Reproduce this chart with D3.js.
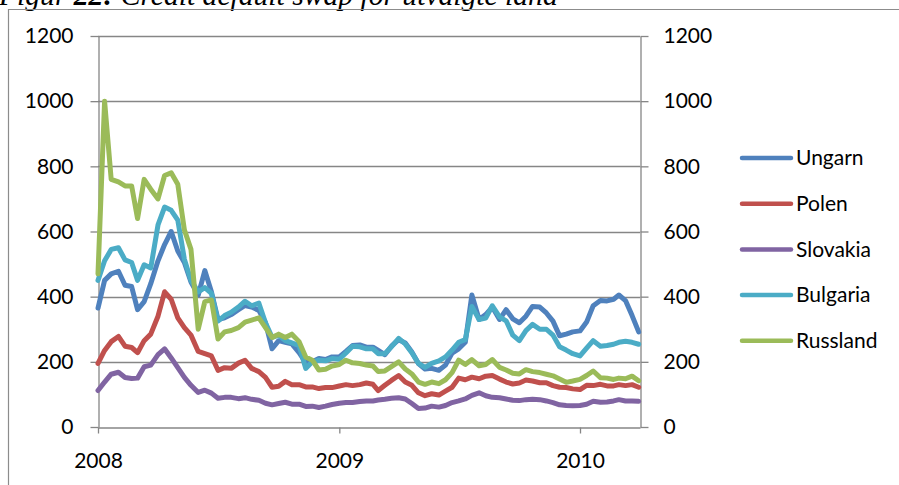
<!DOCTYPE html>
<html>
<head>
<meta charset="utf-8">
<script src="https://cdn.jsdelivr.net/npm/d3@7/dist/d3.min.js"></script>
<style>
  html, body { margin: 0; padding: 0; background: #fff; }
  svg { display: block; }
</style>
</head>
<body>
<svg id="chart" width="899" height="485"></svg>
<script>
// CDS spreads (basis points), sampled three times a month
const dates = [
  "2008-01-01","2008-01-11","2008-01-21","2008-02-01","2008-02-11","2008-02-21",
  "2008-03-01","2008-03-11","2008-03-21","2008-04-01","2008-04-11","2008-04-21",
  "2008-05-01","2008-05-11","2008-05-21","2008-06-01","2008-06-11","2008-06-21",
  "2008-07-01","2008-07-11","2008-07-21","2008-08-01","2008-08-11","2008-08-21",
  "2008-09-01","2008-09-11","2008-09-21","2008-10-01","2008-10-11","2008-10-21",
  "2008-11-01","2008-11-11","2008-11-21","2008-12-01","2008-12-11","2008-12-21",
  "2009-01-01","2009-01-11","2009-01-21","2009-02-01","2009-02-11","2009-02-21",
  "2009-03-01","2009-03-11","2009-03-21","2009-04-01","2009-04-11","2009-04-21",
  "2009-05-01","2009-05-11","2009-05-21","2009-06-01","2009-06-11","2009-06-21",
  "2009-07-01","2009-07-11","2009-07-21","2009-08-01","2009-08-11","2009-08-21",
  "2009-09-01","2009-09-11","2009-09-21","2009-10-01","2009-10-11","2009-10-21",
  "2009-11-01","2009-11-11","2009-11-21","2009-12-01","2009-12-11","2009-12-21",
  "2010-01-01","2010-01-11","2010-01-21","2010-02-01","2010-02-11","2010-02-21",
  "2010-03-01","2010-03-11","2010-03-21","2010-03-31"
];

const ungarn = [
  365,450,470,478,435,431,360,385,440,510,560,600,
  540,505,445,405,480,415,330,335,345,360,373,368,
  358,320,240,265,260,255,228,198,200,210,207,215,
  215,232,250,252,245,245,235,222,248,268,258,230,
  195,178,180,174,190,227,240,260,405,330,345,368,
  330,360,332,320,340,370,368,350,325,280,285,292,
  295,322,372,388,387,392,405,388,342,292
];

const polen = [
  195,235,262,278,248,244,228,265,285,340,415,392,
  335,305,282,232,225,218,174,182,180,196,205,180,
  170,152,122,125,140,130,130,123,123,118,121,121,
  126,130,127,130,135,131,112,128,143,158,138,128,
  105,96,102,98,110,122,150,145,153,148,156,158,
  147,138,132,135,144,141,136,136,127,122,121,117,
  115,128,127,131,126,126,130,127,130,122
];

const slovakia = [
  112,138,162,168,152,149,150,185,190,222,240,212,
  182,152,128,106,113,104,88,91,91,87,90,85,
  82,73,68,72,76,70,70,63,64,60,64,69,
  73,75,75,78,80,80,83,85,88,90,86,72,
  57,58,64,61,66,75,80,86,97,105,96,91,
  90,86,82,81,84,85,84,80,75,68,66,65,
  66,70,79,76,77,80,84,80,80,79
];

const bulgaria = [
  450,510,545,550,513,505,450,498,488,620,675,665,
  635,515,450,415,428,410,325,342,352,368,386,372,
  380,320,275,282,265,258,250,180,200,205,203,210,
  208,227,248,246,240,240,225,225,246,272,255,228,
  195,183,195,203,215,236,260,268,370,330,334,372,
  338,326,282,265,296,315,300,300,282,246,236,225,
  218,242,265,248,250,254,260,263,260,254
];

const russland = [
  470,1000,760,752,740,740,640,760,730,700,772,780,
  745,605,545,300,385,390,270,292,296,305,322,328,
  335,305,275,285,275,285,262,215,205,175,177,187,
  192,205,197,195,190,187,170,172,185,200,178,163,
  138,131,138,133,145,167,205,192,207,188,192,207,
  183,175,165,163,176,170,167,162,157,147,137,141,
  146,158,172,151,150,146,150,148,156,142
];

const seriesNames = ["Ungarn", "Polen", "Slovakia", "Bulgaria", "Russland"];
const seriesValues = [ungarn, polen, slovakia, bulgaria, russland];
const seriesColors = ["#4F81BD", "#C0504D", "#8064A2", "#4BACC6", "#9BBB59"];

const yTicks = [0, 200, 400, 600, 800, 1000, 1200];
const xTickDates = ["2008-01-01", "2009-01-01", "2010-01-01"];
const xTickLabels = ["2008", "2009", "2010"];

const titleParts = [
  { text: "Figur ", weight: "normal" },
  { text: "22:", weight: "bold" },
  { text: " Credit default swap for utvalgte land", weight: "normal" }
];

const parseDate = d3.timeParse("%Y-%m-%d");
const svg = d3.select("#chart");
const W = 899, H = 485;
const plot = { left: 98, right: 640, top: 36, bottom: 427 };
const axisGrey = "#868686";
const labelFont = "Lato, 'Noto Sans', sans-serif";

const x = d3.scaleTime()
  .domain([parseDate("2008-01-01"), parseDate("2010-04-02")])
  .range([plot.left, plot.right]);
const y = d3.scaleLinear()
  .domain([0, 1200])
  .range([plot.bottom, plot.top]);

// Caption above the frame
const title = svg.append("text")
  .attr("x", -1)
  .attr("y", 5)
  .attr("font-family", "'Liberation Serif', 'Times New Roman', serif")
  .attr("font-style", "italic")
  .attr("font-size", 29.6)
  .attr("fill", "#000");
titleParts.forEach(p => {
  title.append("tspan").attr("font-weight", p.weight).text(p.text);
});

// Chart frame (top and left edges)
svg.append("path")
  .attr("d", `M8.5,${H} L8.5,9.5 L${W},9.5`)
  .attr("fill", "none")
  .attr("stroke", "#8c8c8c")
  .attr("stroke-width", 1.2);

// Horizontal gridlines
svg.append("g")
  .selectAll("line")
  .data(yTicks.filter(t => t > 0))
  .join("line")
  .attr("x1", plot.left)
  .attr("x2", plot.right)
  .attr("y1", d => Math.round(y(d)) + 0.5)
  .attr("y2", d => Math.round(y(d)) + 0.5)
  .attr("stroke", axisGrey)
  .attr("stroke-width", 1.3);

function styleAxis(g) {
  g.selectAll(".domain").attr("stroke", axisGrey).attr("stroke-width", 1.3);
  g.selectAll(".tick line").attr("stroke", axisGrey).attr("stroke-width", 1.3);
  g.selectAll(".tick text")
    .attr("fill", "#000")
    .attr("font-family", labelFont)
    .attr("font-size", 21);
}

// Left value axis
svg.append("g")
  .attr("transform", `translate(${plot.left + 0.5},0)`)
  .call(d3.axisLeft(y).tickValues(yTicks).tickFormat(d3.format("d"))
    .tickSizeInner(8).tickSizeOuter(0).tickPadding(17))
  .call(styleAxis);

// Right value axis (same scale)
svg.append("g")
  .attr("transform", `translate(${plot.right + 0.5},0)`)
  .call(d3.axisRight(y).tickValues(yTicks).tickFormat(d3.format("d"))
    .tickSizeInner(8).tickSizeOuter(0).tickPadding(15))
  .call(styleAxis);

// Time axis
svg.append("g")
  .attr("transform", `translate(0,${plot.bottom + 0.5})`)
  .call(d3.axisBottom(x)
    .tickValues(xTickDates.map(parseDate))
    .tickFormat((d, i) => xTickLabels[i])
    .tickSizeInner(6).tickSizeOuter(0).tickPadding(20))
  .call(styleAxis);

// Series lines
const line = d3.line()
  .x((d, i) => x(parseDate(dates[i])))
  .y(d => y(d))
  .curve(d3.curveLinear);

svg.append("g")
  .selectAll("path")
  .data(seriesValues)
  .join("path")
  .attr("d", d => line(d))
  .attr("fill", "none")
  .attr("stroke", (d, i) => seriesColors[i])
  .attr("stroke-width", 5)
  .attr("stroke-linejoin", "round")
  .attr("stroke-linecap", "round");

// Legend
const legend = svg.append("g").attr("transform", "translate(740,158)");
const legendItems = legend.selectAll("g")
  .data(seriesNames)
  .join("g")
  .attr("transform", (d, i) => `translate(0,${i * 45.7})`);
legendItems.append("line")
  .attr("x1", 2).attr("x2", 51)
  .attr("y1", 0).attr("y2", 0)
  .attr("stroke", (d, i) => seriesColors[i])
  .attr("stroke-width", 4.5)
  .attr("stroke-linecap", "round");
legendItems.append("text")
  .attr("x", 56)
  .attr("y", 0)
  .attr("dy", "0.35em")
  .attr("font-family", labelFont)
  .attr("font-size", 21)
  .attr("fill", "#000")
  .text(d => d);
</script>
</body>
</html>
